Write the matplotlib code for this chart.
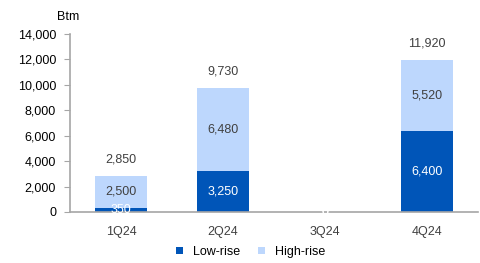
import numpy as np
import matplotlib.pyplot as plt

plt.rcParams['font.family'] = ['Liberation Sans', 'DejaVu Sans']

quarters = ["1Q24", "2Q24", "3Q24", "4Q24"]
low_rise = [350, 3250, 0, 6400]
high_rise = [2500, 6480, 0, 5520]
totals = [2850, 9730, 0, 11920]

dark_blue = "#0055b8"
light_blue = "#bdd7fd"
text_grey = "#404040"
axis_grey = "#a6a6a6"

fig = plt.figure(figsize=(4.81, 2.63), dpi=100)
ax = fig.add_axes([0.1455, 0.194, 0.848, 0.677])

x = np.arange(len(quarters))
w = 0.51
b1 = ax.bar(x, low_rise, w, color=dark_blue, label="Low-rise")
b2 = ax.bar(x, high_rise, w, bottom=low_rise, color=light_blue, label="High-rise")

# segment labels, centred in each block
for i in range(len(quarters)):
    ax.text(x[i], low_rise[i] / 2, f"{low_rise[i]:,}", ha="center", va="center",
            color="white", fontsize=9)
    if high_rise[i] > 0:
        ax.text(x[i], low_rise[i] + high_rise[i] / 2, f"{high_rise[i]:,}",
                ha="center", va="center", color=text_grey, fontsize=9)
        ax.annotate(f"{totals[i]:,}", (x[i], totals[i]), xytext=(0, 12),
                    textcoords="offset points", ha="center", va="center",
                    color=text_grey, fontsize=9)
    else:
        ax.text(x[i], high_rise[i], "0", ha="center", va="center",
                color="white", fontsize=9)

ax.set_xlim(-0.5, 3.5)
ax.set_ylim(0, 14000)
ax.set_yticks(np.arange(0, 14001, 2000))
ax.set_yticklabels([f"{v:,}" for v in range(0, 14001, 2000)])
ax.set_xticks(x)
ax.set_xticklabels(quarters)

for s in ["top", "right"]:
    ax.spines[s].set_visible(False)
for s in ["left", "bottom"]:
    ax.spines[s].set_color(axis_grey)
    ax.spines[s].set_linewidth(1.2)
ax.tick_params(axis="y", colors=axis_grey, labelcolor="black", labelsize=9,
               length=4, pad=6)
ax.tick_params(axis="x", length=0, labelsize=9, labelcolor=text_grey, pad=10)

fig.text(0.141, 0.935, "Btm", ha="center", va="center", fontsize=9)

fig.legend(handles=[b1, b2], loc="center", bbox_to_anchor=(0.521, 0.042), ncol=2,
           frameon=False, fontsize=9, handlelength=0.55, handleheight=0.55,
           columnspacing=1.45, handletextpad=0.8)

fig.savefig("out.png", dpi=100)
